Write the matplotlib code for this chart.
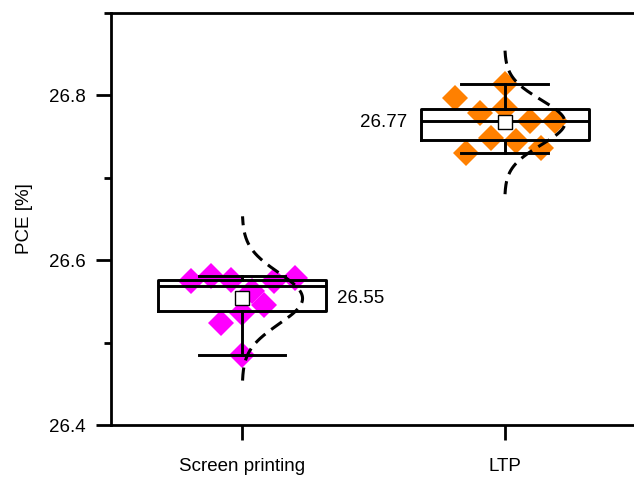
import numpy as np
import matplotlib
matplotlib.use('Agg')
import matplotlib.pyplot as plt

plt.rcParams['font.family'] = ['Liberation Sans', 'DejaVu Sans']

groups = ['Screen printing', 'LTP']
colors = ['#ff00ff', '#ff8000']

pce_screen = [26.5742, 26.5803, 26.5763, 26.5621, 26.5459,
              26.5358, 26.5236, 26.4851, 26.5742, 26.5784]
pce_ltp = [26.7972, 26.8134, 26.7790, 26.7851, 26.7688,
           26.7688, 26.7486, 26.7445, 26.7303, 26.7364]

# horizontal jitter of the points
jitter_screen = [-0.196, -0.119, -0.041, 0.039, 0.084,
                 0.001, -0.079, -0.001, 0.122, 0.202]
jitter_ltp = [-0.191, 0.0, -0.095, 0.0, 0.095,
              0.191, -0.051, 0.045, -0.146, 0.140]

data = [pce_screen, pce_ltp]
jitters = [jitter_screen, jitter_ltp]
positions = [1, 2]

fig = plt.figure(figsize=(6.34, 4.79), dpi=100)
ax = fig.add_axes([0.175, 0.1127, 0.828, 0.8602])

for pos, vals, jit, c in zip(positions, data, jitters, colors):
    ax.plot(pos + np.array(jit), vals, 'D', color=c, ms=13.5, mew=0,
            zorder=2, clip_on=False)

ax.boxplot(data, positions=positions, widths=0.64, whis=(0, 100),
           capwidths=0.33, showmeans=True, showfliers=False,
           boxprops=dict(color='black', lw=2.1),
           whiskerprops=dict(color='black', lw=2.1),
           capprops=dict(color='black', lw=2.1),
           medianprops=dict(color='black', lw=2.1),
           meanprops=dict(marker='s', markerfacecolor='white',
                          markeredgecolor='black', markersize=9.5, mew=1),
           zorder=3)

# normal distribution curves
for pos, vals in zip(positions, data):
    m = np.mean(vals)
    s = np.std(vals, ddof=1)
    yy = np.linspace(m - 3.2 * s, m + 3.2 * s, 200)
    xx = pos + 0.23 * np.exp(-0.5 * ((yy - m) / s) ** 2)
    ax.plot(xx, yy, color='black', lw=2.2, linestyle=(0, (4.3, 2.4)), zorder=4)

# mean labels
m0 = np.mean(pce_screen)
m1 = np.mean(pce_ltp)
ax.text(1.36, m0, f'{m0:.2f}', ha='left', va='center', fontsize=13.5)
ax.text(1.63, m1, f'{m1:.2f}', ha='right', va='center', fontsize=13.5)

ax.set_xlim(0.5, 2.5)
ax.set_ylim(26.4, 26.9)
ax.set_yticks([26.4, 26.6, 26.8])
ax.set_yticks([26.5, 26.7, 26.9], minor=True)
ax.set_xticks(positions)
ax.set_xticklabels(groups)
ax.set_ylabel('PCE [%]', fontsize=13.5, labelpad=11)

ax.tick_params(axis='both', which='major', direction='out', length=10.5,
               width=2, labelsize=13.5, pad=8)
ax.tick_params(axis='x', which='major', pad=13)
ax.tick_params(axis='y', which='minor', direction='out', length=5, width=2)
ax.tick_params(axis='x', which='minor', bottom=False)
for sp in ax.spines.values():
    sp.set_linewidth(2)

fig.savefig('out.png', dpi=100)
